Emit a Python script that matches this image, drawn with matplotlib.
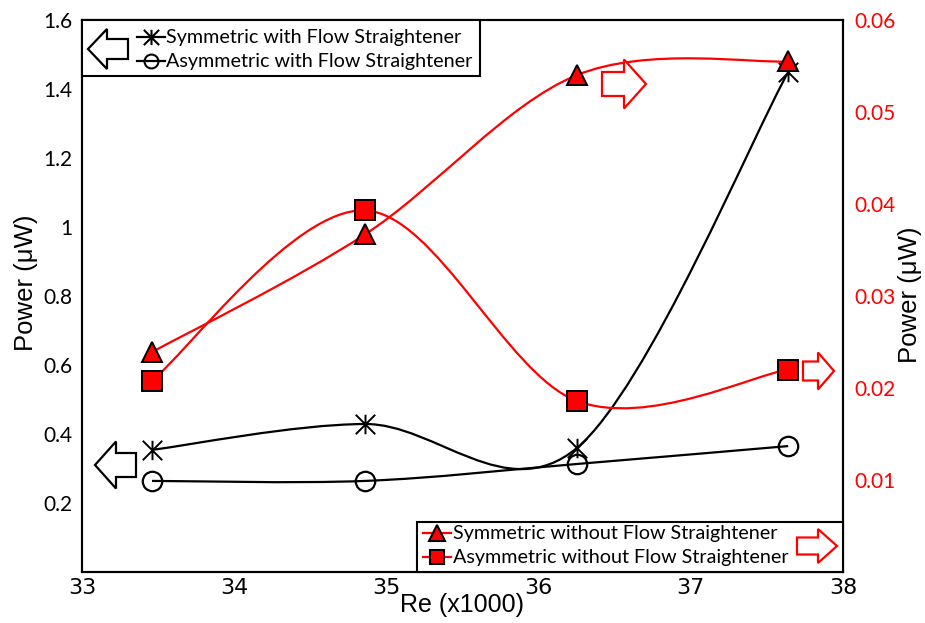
import numpy as np
import matplotlib
matplotlib.use("Agg")
import matplotlib.pyplot as plt
from matplotlib.path import Path
from matplotlib.patches import PathPatch, Polygon, Rectangle
from matplotlib.lines import Line2D

# ---------------- data ----------------
re_x = [33.46, 34.86, 36.25, 37.64]
sym_with = [0.354, 0.429, 0.359, 1.449]
asym_with = [0.264, 0.264, 0.313, 0.365]
sym_without = [0.0239, 0.0367, 0.0540, 0.0555]
asym_without = [0.0208, 0.0393, 0.0186, 0.0220]

x_ticks = [33, 34, 35, 36, 37, 38]
left_ticks = [0.2, 0.4, 0.6, 0.8, 1.0, 1.2, 1.4, 1.6]
left_labels = ["0.2", "0.4", "0.6", "0.8", "1", "1.2", "1.4", "1.6"]
right_ticks = [0.01, 0.02, 0.03, 0.04, 0.05, 0.06]
right_labels = ["0.01", "0.02", "0.03", "0.04", "0.05", "0.06"]

labels_left = ["Symmetric with Flow Straightener", "Asymmetric with Flow Straightener"]
labels_right = ["Symmetric without Flow Straightener", "Asymmetric without Flow Straightener"]

W, H = 925, 623
RED = "#FF0000"
TICK_FONT = "Lato"
LEG_FONT = "Lato"
LAB_FONT = "Liberation Sans"

fig = plt.figure(figsize=(W / 100, H / 100), dpi=100)
L, R, T, B = 82, 843, 20, 572
ax = fig.add_axes([L / W, 1 - B / H, (R - L) / W, (B - T) / H])
ax2 = ax.twinx()

ax.set_xlim(33, 38)
ax.set_ylim(0, 1.6)
ax2.set_ylim(0, 0.06)

ax.set_xticks(x_ticks)
ax.set_xticklabels([str(t) for t in x_ticks], fontfamily="Liberation Sans Narrow", fontsize=16)
ax.set_yticks(left_ticks)
ax.set_yticklabels(left_labels, fontfamily=TICK_FONT, fontsize=15)
ax2.set_yticks(right_ticks)
ax2.set_yticklabels(right_labels, fontfamily=TICK_FONT, fontsize=15, color=RED)
ax.tick_params(axis="both", length=0)
ax.tick_params(axis="y", pad=7)
ax.tick_params(axis="x", pad=4)
ax2.tick_params(axis="y", length=0, pad=8)

for a in (ax, ax2):
    for s in a.spines.values():
        s.set_linewidth(1.5)
        s.set_color("black")


def smooth_path(a, xs, ys):
    pts = a.transData.transform(np.column_stack([xs, ys]))
    n = len(pts)
    verts = [pts[0]]
    codes = [Path.MOVETO]
    for i in range(n - 1):
        p0 = pts[i - 1] if i > 0 else pts[i]
        p1 = pts[i]
        p2 = pts[i + 1]
        p3 = pts[i + 2] if i + 2 < n else pts[i + 1]
        c1 = p1 + (p2 - p0) / 6.0
        c2 = p2 - (p3 - p1) / 6.0
        verts += [c1, c2, p2]
        codes += [Path.CURVE4] * 3
    verts = a.transData.inverted().transform(np.array(verts))
    return Path(verts, codes)


star = Path([(0, -1), (0, 1), (-1, -1), (1, 1), (-1, 1), (1, -1)],
            [Path.MOVETO, Path.LINETO, Path.MOVETO, Path.LINETO, Path.MOVETO, Path.LINETO])

# black series (left axis)
ax.add_patch(PathPatch(smooth_path(ax, re_x, sym_with), fill=False, edgecolor="black", lw=1.6, zorder=2))
ax.add_patch(PathPatch(smooth_path(ax, re_x, asym_with), fill=False, edgecolor="black", lw=1.6, zorder=2))
ax.plot(re_x, sym_with, linestyle="none", marker=star, markersize=14, markeredgecolor="black",
        markeredgewidth=1.4, zorder=3)
ax.plot(re_x, asym_with, linestyle="none", marker="o", markersize=14, markerfacecolor="none",
        markeredgecolor="black", markeredgewidth=1.6, zorder=3)

# red series (right axis)
ax2.add_patch(PathPatch(smooth_path(ax2, re_x, sym_without), fill=False, edgecolor=RED, lw=1.6, zorder=2))
ax2.add_patch(PathPatch(smooth_path(ax2, re_x, asym_without), fill=False, edgecolor=RED, lw=1.6, zorder=2))
ax2.plot(re_x, sym_without, linestyle="none", marker="^", markersize=14, markerfacecolor=RED,
         markeredgecolor="black", markeredgewidth=1.4, zorder=3)
ax2.plot(re_x, asym_without, linestyle="none", marker="s", markersize=14, markerfacecolor=RED,
         markeredgecolor="black", markeredgewidth=1.4, zorder=3)


def px(x, y):
    return (x / 100.0, (H - y) / 100.0)


def block_arrow(tip_x, cy, length, head_len, head_half, body_half, direction, color, z=6):
    d = -1 if direction == "left" else 1
    hb = tip_x - d * head_len
    tail = tip_x - d * length
    pts = [(tip_x, cy), (hb, cy - head_half), (hb, cy - body_half), (tail, cy - body_half),
           (tail, cy + body_half), (hb, cy + body_half), (hb, cy + head_half)]
    poly = Polygon([px(x, y) for x, y in pts], closed=True, facecolor="white", edgecolor=color,
                   lw=1.6, transform=fig.dpi_scale_trans, zorder=z)
    fig.add_artist(poly)


def box(x0, y0, x1, y1):
    fig.add_artist(Rectangle(px(x0, y1), (x1 - x0) / 100, (y1 - y0) / 100, facecolor="white",
                             edgecolor="black", lw=1.5, transform=fig.dpi_scale_trans, zorder=5))


def legend_row(x0, x1, y, color, marker, ms, mfc, mec, text, tx):
    fig.add_artist(Line2D([px(x0, y)[0], px(x1, y)[0]], [px(x0, y)[1], px(x1, y)[1]], color=color,
                          lw=1.6, transform=fig.dpi_scale_trans, zorder=6))
    xm, ym = px((x0 + x1) / 2, y)
    fig.add_artist(Line2D([xm], [ym], linestyle="none", marker=marker, markersize=ms,
                          markerfacecolor=mfc, markeredgecolor=mec, markeredgewidth=1.5,
                          transform=fig.dpi_scale_trans, zorder=7))
    fig.text(tx / W, 1 - y / H, text, fontfamily=LEG_FONT, fontsize=14.2, va="center", ha="left",
             zorder=8)


# top-left legend
box(82, 20, 480, 76)
block_arrow(88, 49, 40, 19, 20, 10, "left", "black")
legend_row(137, 165, 37, "black", star, 11, "black", "black", labels_left[0], 166)
legend_row(137, 165, 61, "black", "o", 10, "none", "black", labels_left[1], 166)

# bottom-right legend
box(417, 522, 843, 572)
block_arrow(837, 546, 40, 19, 17, 8.5, "right", RED)
legend_row(423, 451, 533, RED, "^", 11, RED, "black", labels_right[0], 453)
legend_row(423, 451, 557, RED, "s", 10, RED, "black", labels_right[1], 453)

# free arrows
block_arrow(95, 465, 41, 21, 23.5, 12, "left", "black")
block_arrow(646, 84, 44, 22, 24.5, 12, "right", RED)
block_arrow(834, 371, 31, 16, 18.5, 9.5, "right", RED)

# axis labels
fig.text(462 / W, 1 - 605 / H, "Re (x1000)", fontfamily=LAB_FONT, fontsize=18, ha="center", va="center")
fig.text(26 / W, 1 - 283 / H, "Power (\u03bcW)", fontfamily=LAB_FONT, fontsize=18.5, rotation=90,
         ha="center", va="center")
fig.text(910 / W, 1 - 295 / H, "Power (\u03bcW)", fontfamily=LAB_FONT, fontsize=18.5, rotation=90,
         ha="center", va="center")

fig.savefig("out.png", dpi=100)
